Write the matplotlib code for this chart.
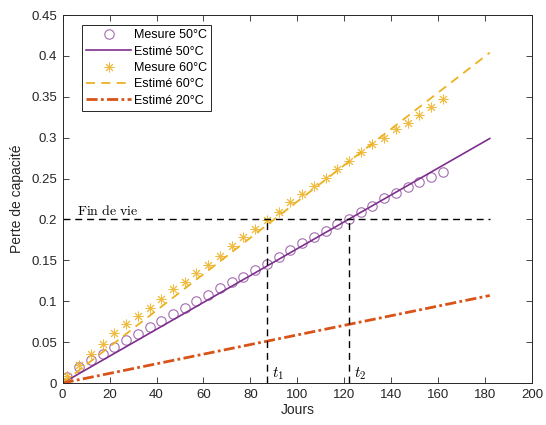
import numpy as np
import matplotlib.pyplot as plt

plt.rcParams['font.family'] = ['Liberation Sans', 'DejaVu Sans']
plt.rcParams['mathtext.fontset'] = 'cm'

# measurement days
days = [0, 2, 7, 12, 17, 22, 27, 32, 37, 42, 47, 52, 57, 62, 67, 72, 77, 82,
        87, 92, 97, 102, 107, 112, 117, 122, 127, 132, 137, 142, 147, 152, 157, 162]

mesure_50 = [0.000, 0.007, 0.019, 0.028, 0.036, 0.044, 0.052, 0.060, 0.068, 0.076,
             0.084, 0.092, 0.100, 0.108, 0.116, 0.123, 0.130, 0.138, 0.146, 0.154,
             0.163, 0.171, 0.179, 0.186, 0.194, 0.201, 0.209, 0.217, 0.226, 0.232,
             0.240, 0.246, 0.252, 0.258]

mesure_60 = [0.000, 0.008, 0.022, 0.035, 0.048, 0.061, 0.072, 0.082, 0.092, 0.103,
             0.115, 0.124, 0.134, 0.144, 0.155, 0.167, 0.178, 0.188, 0.199, 0.209,
             0.221, 0.231, 0.241, 0.251, 0.262, 0.272, 0.282, 0.292, 0.300, 0.310,
             0.318, 0.328, 0.337, 0.347]

# estimated curves (endpoints)
est_days = [0, 182]
estime_50 = [0.0, 0.299]
estime_60 = [0.0, 0.404]
estime_20 = [0.0, 0.107]

fin_de_vie = 0.2
t1 = 87
t2 = 122

purple = '#7E2F8E'
yellow = '#EDB120'
orange = '#D95319'
axcol = '#262626'

fig = plt.figure(figsize=(5.46, 4.25), dpi=100)
ax = fig.add_axes([0.1148, 0.0988, 0.8596, 0.8659])

ax.plot(days, mesure_50, 'o', ms=6.8, mfc='none', mec=purple, mew=0.8, alpha=0.7,
        label='Mesure 50°C')
ax.plot(est_days, estime_50, '-', color=purple, lw=1.2, label='Estimé 50°C')
ax.plot(days, mesure_60, marker=(8, 2, 0), ls='none', ms=7, color=yellow, mew=0.7,
        alpha=0.85, label='Mesure 60°C')
ax.plot(est_days, estime_60, '--', color=yellow, lw=1.3, dashes=(5, 3.5),
        label='Estimé 60°C')
ax.plot(est_days, estime_20, '-.', color=orange, lw=2.0, dashes=(4, 1.2, 1, 1.2),
        label='Estimé 20°C')

# end of life markers
ax.plot([0, 182], [fin_de_vie, fin_de_vie], color='k', lw=1.0, dashes=(5, 3.5))
ax.plot([t1, t1], [0, fin_de_vie], color='k', lw=1.0, dashes=(5, 3.5))
ax.plot([t2, t2], [0, fin_de_vie], color='k', lw=1.0, dashes=(5, 3.5))
ax.text(6, 0.205, r'$\mathrm{Fin\ de\ vie}$', fontsize=10)
ax.text(t1 + 2, 0.007, r'$t_1$', fontsize=11)
ax.text(t2 + 2, 0.007, r'$t_2$', fontsize=11)

ax.set_xlim(0, 200)
ax.set_ylim(0, 0.45)
ax.set_xticks(np.arange(0, 201, 20))
ax.set_yticks(np.arange(0, 0.451, 0.05))
ax.set_yticklabels(['0', '0.05', '0.1', '0.15', '0.2', '0.25', '0.3', '0.35', '0.4', '0.45'])
ax.tick_params(direction='in', length=4, width=0.6, colors=axcol, labelsize=9.5,
               top=True, right=True, pad=4)
for s in ax.spines.values():
    s.set_color(axcol)
    s.set_linewidth(0.7)

ax.set_xlabel('Jours', fontsize=10, color=axcol, labelpad=2)
ax.set_ylabel('Perte de capacité', fontsize=10, color=axcol, labelpad=5)

leg = ax.legend(loc='upper left', bbox_to_anchor=(0.041, 0.973), borderaxespad=0,
                fontsize=9, handlelength=3.6, labelspacing=0.35, handletextpad=0.2,
                borderpad=0.35, fancybox=False, framealpha=1, edgecolor=axcol)
leg.get_frame().set_linewidth(0.7)

fig.savefig('out.png', dpi=100)
